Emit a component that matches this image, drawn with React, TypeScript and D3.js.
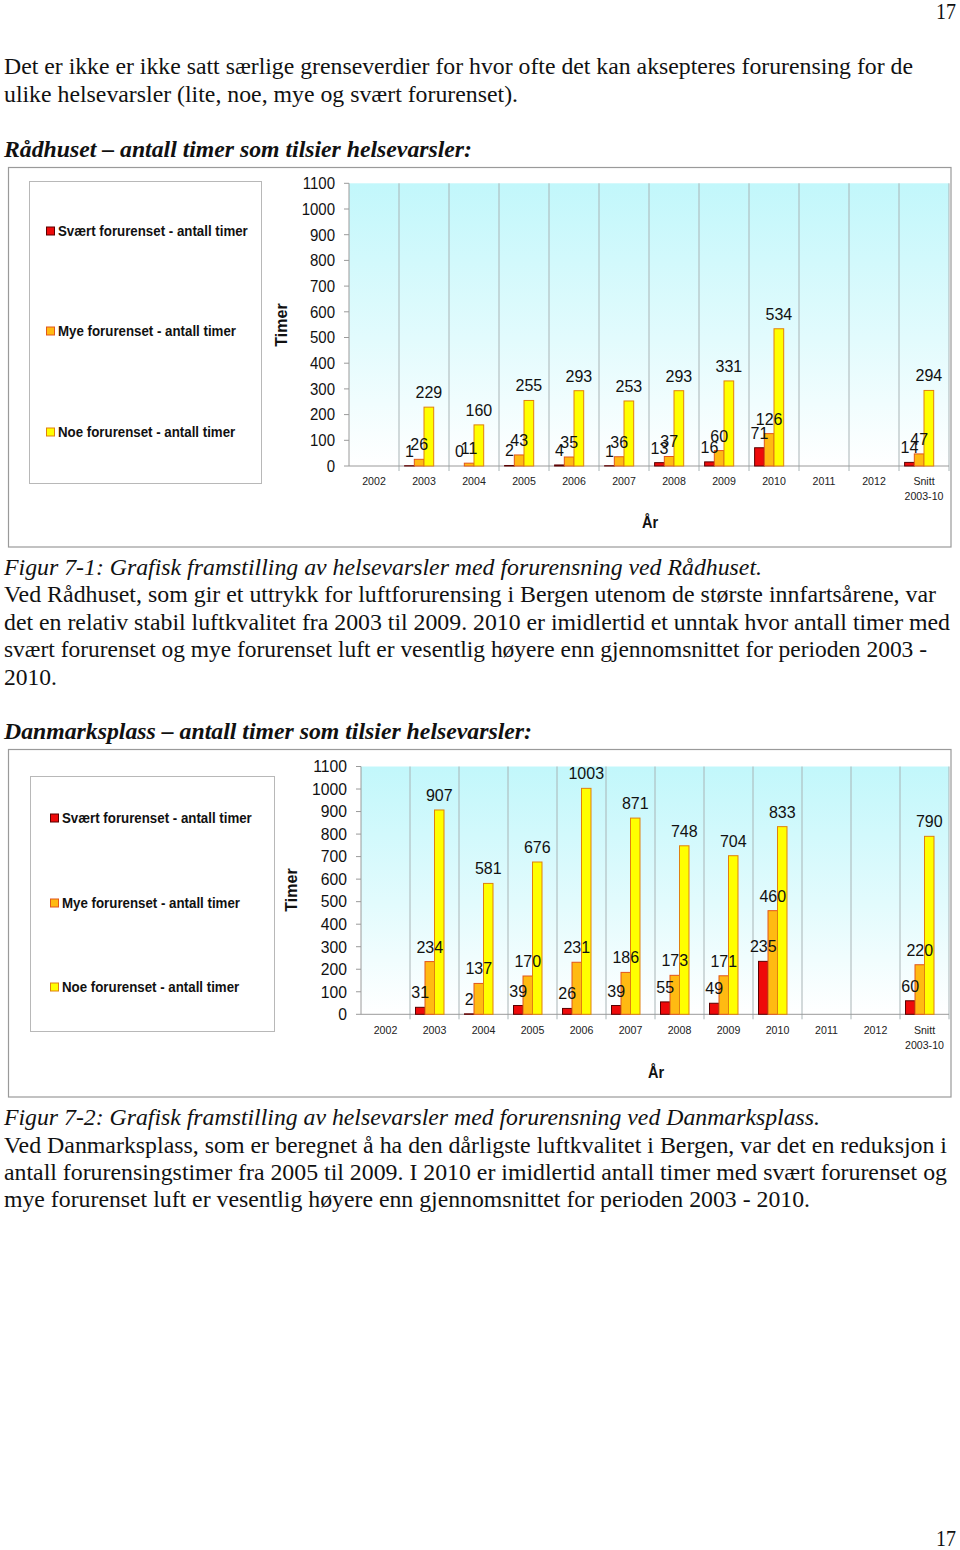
import React from "react";
import * as d3 from "d3";

// ---------- DATA ----------
const categories = ["2002", "2003", "2004", "2005", "2006", "2007", "2008", "2009", "2010", "2011", "2012", "Snitt 2003-10"];
const seriesNames = ["Svært forurenset - antall timer", "Mye forurenset - antall timer", "Noe forurenset - antall timer"];
// the chart reserves a 4th (empty, unlabelled) slot in each group
const seriesSlots = ["svaert", "mye", "noe", "tom"];
const yTicks = [0, 100, 200, 300, 400, 500, 600, 700, 800, 900, 1000, 1100];

const raadhusetSvaert = [null, 1, 0, 2, 4, 1, 13, 16, 71, null, null, 14];
const raadhusetMye = [null, 26, 11, 43, 35, 36, 37, 60, 126, null, null, 47];
const raadhusetNoe = [null, 229, 160, 255, 293, 253, 293, 331, 534, null, null, 294];

const danmarkSvaert = [null, 31, 2, 39, 26, 39, 55, 49, 235, null, null, 60];
const danmarkMye = [null, 234, 137, 170, 231, 186, 173, 171, 460, null, null, 220];
const danmarkNoe = [null, 907, 581, 676, 1003, 871, 748, 704, 833, null, null, 790];

// ---------- STYLE ----------
const FILLS = ["#ee0a0a", "#ffba12", "#ffff00"];
const STROKES = ["#5a0000", "#e2561a", "#e0800e"];
const SY = 1.12;
const SERIF = "'Times New Roman', 'Liberation Serif', serif";
const SANS = "Arial, 'Liberation Sans', sans-serif";

function T({ x, y, sy = 1, children, ...rest }: any) {
  return (
    <text transform={`translate(${x},${y}) scale(1,${sy})`} {...rest}>
      {children}
    </text>
  );
}

const bodyLines = [
  { t: "Det er ikke er ikke satt særlige grenseverdier for hvor ofte det kan aksepteres forurensing for de", y: 74, w: 909, s: "n" },
  { t: "ulike helsevarsler (lite, noe, mye og svært forurenset).", y: 102, w: 514, s: "n" },
  { t: "Rådhuset – antall timer som tilsier helsevarsler:", y: 157, w: 468, s: "bi" },
  { t: "Figur 7-1: Grafisk framstilling av helsevarsler med forurensning ved Rådhuset.", y: 575, w: 758, s: "i" },
  { t: "Ved Rådhuset, som gir et uttrykk for luftforurensing i Bergen utenom de største innfartsårene, var", y: 602, w: 932, s: "n" },
  { t: "det en relativ stabil luftkvalitet fra 2003 til 2009. 2010 er imidlertid et unntak hvor antall timer med", y: 630, w: 946, s: "n" },
  { t: "svært forurenset og mye forurenset luft er vesentlig høyere enn gjennomsnittet for perioden 2003 -", y: 657, w: 923, s: "n" },
  { t: "2010.", y: 685, w: 53, s: "n" },
  { t: "Danmarksplass – antall timer som tilsier helsevarsler:", y: 739, w: 528, s: "bi" },
  { t: "Figur 7-2: Grafisk framstilling av helsevarsler med forurensning ved Danmarksplass.", y: 1125, w: 816, s: "i" },
  { t: "Ved Danmarksplass, som er beregnet å ha den dårligste luftkvalitet i Bergen, var det en reduksjon i", y: 1153, w: 943, s: "n" },
  { t: "antall forurensingstimer fra 2005 til 2009. I 2010 er imidlertid antall timer med svært forurenset og", y: 1180, w: 943, s: "n" },
  { t: "mye forurenset luft er vesentlig høyere enn gjennomsnittet for perioden 2003 - 2010.", y: 1207, w: 806, s: "n" },
];

type Layout = {
  id: string;
  outer: [number, number, number, number];
  legend: [number, number, number, number];
  legendYs: number[];
  markerX: number;
  legendTextX: number;
  plotL: number;
  plotR: number;
  yTop: number;
  yBottom: number;
  tickRight: number;
  tickFont: number;
  timer: [number, number];
  ar: [number, number];
  xLabelY: number;
};

function BarChart({ layout, series }: { layout: Layout; series: (number | null)[][] }) {
  const L = layout;
  const x0 = d3.scaleBand<string>().domain(categories).range([L.plotL, L.plotR]).padding(0);
  const x1 = d3
    .scaleBand<string>()
    .domain(seriesSlots)
    .range([0, x0.bandwidth()])
    .paddingInner(0)
    .paddingOuter(0.58);
  const y = d3.scaleLinear().domain([0, 1100]).range([L.yBottom, L.yTop]);
  const gradId = `grad-${L.id}`;
  const bw = x1.bandwidth();

  return (
    <g>
      <defs>
        <linearGradient id={gradId} x1="0" y1="0" x2="0" y2="1">
          <stop offset="0%" stopColor="#c2f7fb" />
          <stop offset="55%" stopColor="#e2fbfd" />
          <stop offset="100%" stopColor="#ffffff" />
        </linearGradient>
      </defs>
      <rect x={L.outer[0]} y={L.outer[1]} width={L.outer[2]} height={L.outer[3]} fill="#fff" stroke="#9a9a9a" strokeWidth={1.2} />
      <rect x={L.legend[0]} y={L.legend[1]} width={L.legend[2]} height={L.legend[3]} fill="#fff" stroke="#b8b8b8" strokeWidth={1} />
      {seriesNames.map((name, i) => (
        <g key={name}>
          <rect x={L.markerX} y={L.legendYs[i] - 4} width={8} height={8} fill={FILLS[i]} stroke={STROKES[i]} strokeWidth={1} />
          <T x={L.legendTextX} y={L.legendYs[i] + 4.5} sy={SY} fontFamily={SANS} fontWeight="bold" fontSize={13.3} fill="#111">
            {name}
          </T>
        </g>
      ))}
      {/* plot background */}
      <rect x={L.plotL} y={L.yTop} width={L.plotR - L.plotL} height={L.yBottom - L.yTop} fill={`url(#${gradId})`} />
      {/* category separators */}
      {categories.map((c) => {
        const xx = (x0(c) as number) + x0.bandwidth();
        return <line key={c} x1={xx} x2={xx} y1={L.yTop} y2={L.yBottom + 5} stroke="#a9b4b6" strokeWidth={1} />;
      })}
      {/* y axis */}
      <line x1={L.plotL} x2={L.plotL} y1={L.yTop} y2={L.yBottom} stroke="#9a9a9a" strokeWidth={1} />
      {yTicks.map((t) => (
        <g key={t}>
          <line x1={L.plotL - 5} x2={L.plotL} y1={y(t)} y2={y(t)} stroke="#9a9a9a" />
          <T x={L.tickRight} y={y(t) + 5.8} sy={1.08} textAnchor="end" fontFamily={SANS} fontSize={L.tickFont} fill="#111">
            {t}
          </T>
        </g>
      ))}
      <line x1={L.plotL} x2={L.plotR} y1={L.yBottom} y2={L.yBottom} stroke="#9a9a9a" strokeWidth={1} />
      {/* x labels */}
      {categories.map((c) => {
        const cx = (x0(c) as number) + x0.bandwidth() / 2;
        const parts = c.split(" ");
        return (
          <g key={c}>
            {parts.map((p, k) => (
              <text key={p} x={cx} y={L.xLabelY + k * 15} textAnchor="middle" fontFamily={SANS} fontSize={10.6} fill="#222">
                {p}
              </text>
            ))}
          </g>
        );
      })}
      {/* bars */}
      {series.map((vals, si) =>
        vals.map((v, ci) => {
          if (v === null) return null;
          const bx = (x0(categories[ci]) as number) + (x1(seriesSlots[si]) as number);
          const by = y(v);
          return (
            <rect
              key={`b-${si}-${ci}`}
              x={bx}
              y={by}
              width={bw}
              height={Math.max(0, L.yBottom - by)}
              fill={FILLS[si]}
              stroke={STROKES[si]}
              strokeWidth={1}
            />
          );
        })
      )}
      {/* data labels */}
      {series.map((vals, si) =>
        vals.map((v, ci) => {
          if (v === null) return null;
          const bx = (x0(categories[ci]) as number) + (x1(seriesSlots[si]) as number) + bw / 2;
          return (
            <text key={`l-${si}-${ci}`} x={bx} y={y(v) - 9} textAnchor="middle" fontFamily={SANS} fontSize={16} fill="#111">
              {v}
            </text>
          );
        })
      )}
      <text
        transform={`translate(${L.timer[0]},${L.timer[1]}) rotate(-90)`}
        textAnchor="middle"
        fontFamily={SANS}
        fontWeight="bold"
        fontSize={16}
        fill="#111"
      >
        Timer
      </text>
      <T x={L.ar[0]} y={L.ar[1]} sy={1.1} textAnchor="middle" fontFamily={SANS} fontWeight="bold" fontSize={14.5} fill="#111">
        År
      </T>
    </g>
  );
}

const layout1: Layout = {
  id: "r",
  outer: [8.5, 167.5, 942.5, 379.5],
  legend: [29.5, 181.5, 232, 302],
  legendYs: [231, 331, 432],
  markerX: 46.5,
  legendTextX: 58,
  plotL: 349,
  plotR: 949,
  yTop: 183.3,
  yBottom: 466,
  tickRight: 335,
  tickFont: 15,
  timer: [287, 325],
  ar: [650, 528],
  xLabelY: 485,
};

const layout2: Layout = {
  id: "d",
  outer: [8.5, 749.5, 942.5, 347.5],
  legend: [30.5, 776.5, 244, 255],
  legendYs: [818, 903, 987],
  markerX: 50.5,
  legendTextX: 62,
  plotL: 361,
  plotR: 949,
  yTop: 766.5,
  yBottom: 1014.3,
  tickRight: 347,
  tickFont: 15.7,
  timer: [297, 890],
  ar: [656, 1078],
  xLabelY: 1034,
};

export default function App() {
  return (
    <svg
      width={960}
      height={1550}
      viewBox="0 0 960 1550"
      style={{ position: "absolute", left: 0, top: 0, display: "block", background: "#fff" }}
    >
      <rect x={0} y={0} width={960} height={1550} fill="#fff" />
      <T x={936} y={19} sy={SY} fontFamily={SERIF} fontSize={20} fill="#111">17</T>
      {bodyLines.map((l, i) => (
        <T
          key={i}
          x={4}
          y={l.y}
          sy={SY}
          fontFamily={SERIF}
          fontSize={20}
          fontStyle={l.s === "i" || l.s === "bi" ? "italic" : "normal"}
          fontWeight={l.s === "bi" ? "bold" : "normal"}
          textLength={l.w}
          lengthAdjust="spacingAndGlyphs"
          fill="#111"
        >
          {l.t}
        </T>
      ))}
      <BarChart layout={layout1} series={[raadhusetSvaert, raadhusetMye, raadhusetNoe]} />
      <BarChart layout={layout2} series={[danmarkSvaert, danmarkMye, danmarkNoe]} />
      <T x={936} y={1546} sy={SY} fontFamily={SERIF} fontSize={20} fill="#111">17</T>
    </svg>
  );
}
